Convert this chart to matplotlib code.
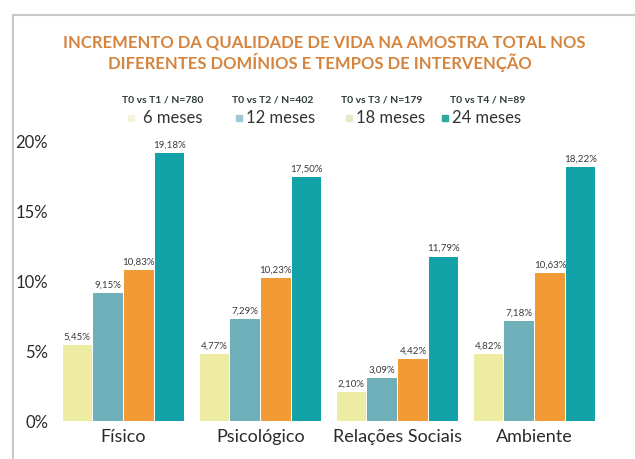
import matplotlib
matplotlib.use("Agg")
import matplotlib.pyplot as plt
import numpy as np
from matplotlib.lines import Line2D

plt.rcParams['font.family'] = ['Lato', 'DejaVu Sans']

# ---------------------------------------------------------------------------
# Data
# ---------------------------------------------------------------------------
dominios = ["Físico", "Psicológico", "Relações Sociais", "Ambiente"]
series = ["6 meses", "12 meses", "18 meses", "24 meses"]
headers = ["T0 vs T1 / N=780", "T0 vs T2 / N=402", "T0 vs T3 / N=179", "T0 vs T4 / N=89"]
m6 = [5.45, 4.77, 2.10, 4.82]
m12 = [9.15, 7.29, 3.09, 7.18]
m18 = [10.83, 10.23, 4.42, 10.63]
m24 = [19.18, 17.50, 11.79, 18.22]
yticks = [0, 5, 10, 15, 20]

colors = ["#EEEBA3", "#6FAFBA", "#F29A35", "#11A3A8"]
W, H = 635, 459


def fx(px):
    return px / W


def fy(py):
    return 1 - py / H


fig = plt.figure(figsize=(W / 100, H / 100), dpi=100)
ax = fig.add_axes([fx(55), fy(421), fx(603) - fx(55), fy(142) - fy(421)])

x = np.arange(len(dominios))
step, bw = 0.225, 0.215
for i, vals in enumerate([m6, m12, m18, m24]):
    xs = x + (i - 1.5) * step
    ax.bar(xs, vals, width=bw, color=colors[i], zorder=2)
    for xx, v in zip(xs, vals):
        ax.text(xx, v + 0.25, f"{v:.2f}%".replace(".", ","), ha="center",
                va="bottom", fontsize=7, color="#3A3A3A")

ax.set_xlim(-0.5, 3.5)
ax.set_ylim(0, 20)
ax.set_yticks(yticks)
ax.set_yticklabels([f"{t}%" for t in yticks], fontsize=12, color="#2B2B2B")
ax.set_xticks(x)
ax.set_xticklabels(dominios, fontsize=13, color="#2B2B2B")
ax.tick_params(length=0)
ax.tick_params(axis="y", pad=5)
ax.tick_params(axis="x", pad=6)
for s in ax.spines.values():
    s.set_visible(False)

# title
title_col = "#D5843E"
fig.text(fx(324), fy(42), "INCREMENTO DA QUALIDADE DE VIDA NA AMOSTRA TOTAL NOS",
         ha="center", va="center", fontsize=12, fontweight="bold", color=title_col)
fig.text(fx(320), fy(63), "DIFERENTES DOMÍNIOS E TEMPOS DE INTERVENÇÃO",
         ha="center", va="center", fontsize=12, fontweight="bold", color=title_col)

# legend, drawn by hand
hx = [163, 273, 382, 488]
lx = [173, 281, 391, 487]
mcol = ["#F4F2D8", "#9CC9D3", "#E3EBC6", "#2AA89A"]
for i in range(4):
    fig.text(fx(hx[i]), fy(100), headers[i], ha="center", va="center",
             fontsize=7.5, fontweight="bold", color="#2E3B3B")
    fig.text(fx(lx[i]), fy(118), series[i], ha="center", va="center",
             fontsize=12, color="#333333")
    fig.add_artist(Line2D([fx(lx[i] - 42)], [fy(118)], marker="s", markersize=4,
                          color=mcol[i], transform=fig.transFigure))

# frame
fig.add_artist(Line2D([fx(13), fx(635)], [fy(15), fy(15)], color="#C8C8C8",
                      lw=1.5, transform=fig.transFigure))
fig.add_artist(Line2D([fx(13), fx(13)], [fy(15), fy(459)], color="#C8C8C8",
                      lw=1.5, transform=fig.transFigure))

fig.savefig("out.png", dpi=100)
